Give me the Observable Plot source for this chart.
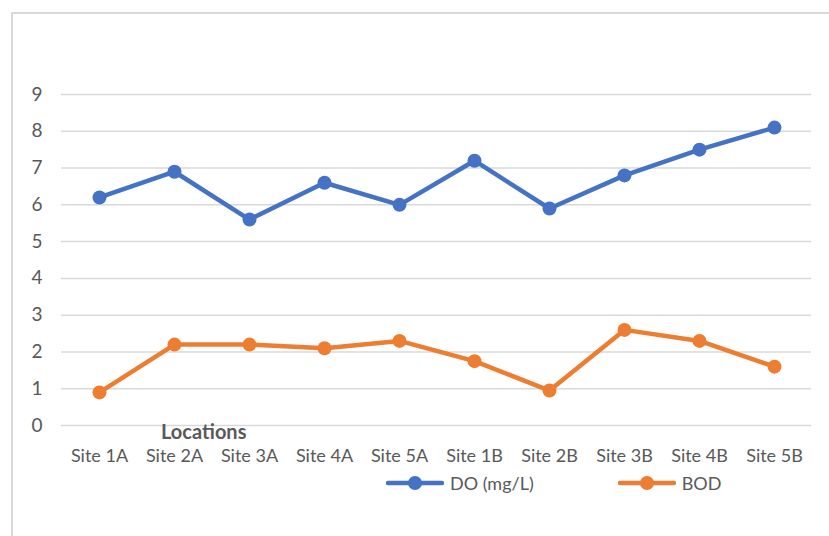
<!DOCTYPE html>
<html>
<head>
<meta charset="utf-8">
<script src="https://cdn.jsdelivr.net/npm/d3@7"></script>
<script src="https://cdn.jsdelivr.net/npm/@observablehq/plot@0.6"></script>
<style>
  html, body { margin: 0; padding: 0; background: #fff; overflow: hidden; }
  body { width: 829px; height: 536px; position: relative; font-family: Lato, "Open Sans", sans-serif; }
  #frame { position: absolute; left: 11px; top: 12px; width: 900px; height: 600px; border: 2px solid #d9d9d9; box-sizing: border-box; }
  #chart { position: absolute; left: 0; top: 0; }
  #xlabel { position: absolute; left: 161px; top: 420px; font-weight: bold; font-size: 20px; line-height: 22px; color: #595959; }
  #legend { position: absolute; left: 386px; top: 472px; display: flex; align-items: center; font-size: 18px; color: #595959; }
  .item { display: flex; align-items: center; }
  .item span { margin-left: 6px; }
</style>
</head>
<body>
<div id="frame"></div>
<div id="chart"></div>
<div id="xlabel">Locations</div>
<div id="legend"></div>
<script>
const sites = ["Site 1A","Site 2A","Site 3A","Site 4A","Site 5A","Site 1B","Site 2B","Site 3B","Site 4B","Site 5B"];
const doValues = [6.2, 6.9, 5.6, 6.6, 6.0, 7.2, 5.9, 6.8, 7.5, 8.1];
const bodValues = [0.9, 2.2, 2.2, 2.1, 2.3, 1.75, 0.95, 2.6, 2.3, 1.6];
const yTicks = [0,1,2,3,4,5,6,7,8,9];
const seriesNames = ["DO (mg/L)", "BOD"];
const seriesColors = ["#4472c4", "#ed7d31"];

const rows = [];
sites.forEach((s, i) => {
  rows.push({site: s, series: seriesNames[0], value: doValues[i]});
  rows.push({site: s, series: seriesNames[1], value: bodValues[i]});
});

const chart = Plot.plot({
  width: 829,
  height: 480,
  marginLeft: 61,
  marginRight: 18,
  marginTop: 94,
  marginBottom: 55,
  style: {fontFamily: "Lato, 'Open Sans', sans-serif", fontSize: "18px", color: "#595959", background: "transparent"},
  x: {type: "point", domain: sites, padding: 0.5, label: null},
  y: {domain: [0, 9], label: null},
  color: {domain: seriesNames, range: seriesColors},
  marks: [
    Plot.ruleY(yTicks, {stroke: "#d9d9d9", strokeWidth: 1.5}),
    Plot.axisX({tickSize: 0, tickPadding: 24, label: null, fill: "#595959"}),
    Plot.axisY({ticks: yTicks, tickSize: 0, tickPadding: 19, label: null, fill: "#595959", fontSize: 19}),
    Plot.line(rows, {x: "site", y: "value", z: "series", stroke: "series", strokeWidth: 4.5, strokeLinejoin: "round"}),
    Plot.dot(rows, {x: "site", y: "value", fill: "series", r: 7})
  ]
});
document.getElementById("chart").appendChild(chart);

const legend = document.getElementById("legend");
seriesNames.forEach((name, i) => {
  const item = document.createElement("div");
  item.className = "item";
  item.style.marginRight = i === 0 ? "84px" : "0";
  item.innerHTML = `<svg width="58" height="16"><line x1="2" y1="8" x2="56" y2="8" stroke="${seriesColors[i]}" stroke-width="4.5" stroke-linecap="round"/><circle cx="29" cy="8" r="7" fill="${seriesColors[i]}"/></svg><span>${name}</span>`;
  legend.appendChild(item);
});
</script>
</body>
</html>
